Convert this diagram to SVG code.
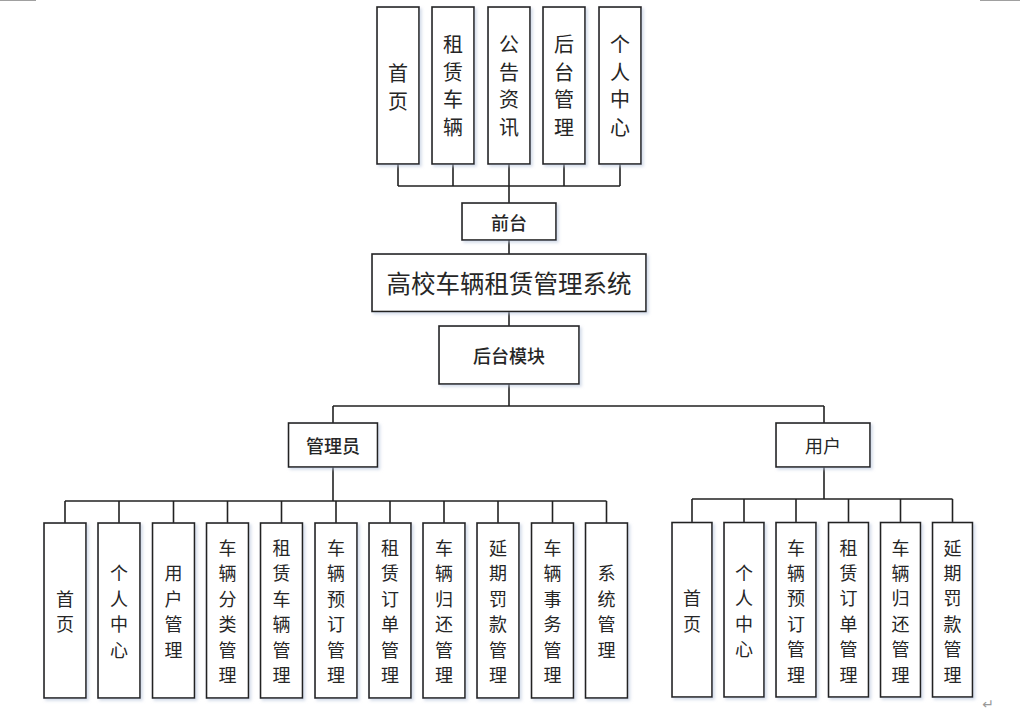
<svg xmlns="http://www.w3.org/2000/svg" width="1034" height="719" viewBox="0 0 1034 719">
<style>
.box{fill:#ffffff;stroke:#222222;stroke-width:1.6;filter:url(#sh)}
.ln{fill:none;stroke:#222222;stroke-width:1.6}
.t{font-family:"Noto Sans CJK SC","Noto Sans",sans-serif;fill:#262626;text-anchor:middle;dominant-baseline:central}
.top{font-size:20px}
.bot{font-size:18px}
.mid{font-size:18px;font-weight:500}
.ttl{font-size:24.5px}
</style>
<defs>
<filter id="sh" x="-20%" y="-20%" width="140%" height="140%">
<feDropShadow dx="2" dy="2" stdDeviation="1.5" flood-color="#b8c4dc" flood-opacity="0.6"/>
</filter>
</defs>
<rect width="1034" height="719" fill="#ffffff"/>
<line x1="0" y1="0.5" x2="36" y2="0.5" stroke="#a0a0a0" stroke-width="1"/>
<line x1="980" y1="0.5" x2="1020" y2="0.5" stroke="#a0a0a0" stroke-width="1"/>
<text x="988" y="704" font-family="DejaVu Sans,sans-serif" font-size="14" fill="#999999" text-anchor="middle" dominant-baseline="central">↵</text>

<g id="connectors">
<path class="ln" d="M398,164V186M453,164V186M509,164V203M564,164V186M620,164V186M398,186H620"/>
<path class="ln" d="M509,240V254M509,311.5V326M509,384V406M333,406H824M333,406V423M824,406V423"/>
<path class="ln" d="M333,467V501" stroke-width="2.4"/>
<path class="ln" d="M65,501H606.5M65,501V523M119,501V523M173.5,501V523M227.5,501V523M281.5,501V523M336,501V523M390,501V523M444,501V523M498,501V523M552.5,501V523M606.5,501V523"/>
<path class="ln" d="M824,467V499" stroke-width="2.4"/>
<path class="ln" d="M692,499H952.5M692,499V522.5M744,499V522.5M796,499V522.5M848.5,499V522.5M900.5,499V522.5M952.5,499V522.5"/>
</g>

<g id="top1"><rect class="box" x="377" y="7" width="42" height="157"/><text class="t top" x="398"><tspan x="398" y="72">首</tspan><tspan x="398" y="100">页</tspan></text></g>
<g id="top2"><rect class="box" x="432" y="7" width="42" height="157"/><text class="t top" x="453"><tspan x="453" y="43">租</tspan><tspan x="453" y="70.5">赁</tspan><tspan x="453" y="98">车</tspan><tspan x="453" y="125.5">辆</tspan></text></g>
<g id="top3"><rect class="box" x="488" y="7" width="42" height="157"/><text class="t top" x="509"><tspan x="509" y="43">公</tspan><tspan x="509" y="70.5">告</tspan><tspan x="509" y="98">资</tspan><tspan x="509" y="125.5">讯</tspan></text></g>
<g id="top4"><rect class="box" x="543" y="7" width="42" height="157"/><text class="t top" x="564"><tspan x="564" y="43">后</tspan><tspan x="564" y="70.5">台</tspan><tspan x="564" y="98">管</tspan><tspan x="564" y="125.5">理</tspan></text></g>
<g id="top5"><rect class="box" x="599" y="7" width="42" height="157"/><text class="t top" x="620"><tspan x="620" y="43">个</tspan><tspan x="620" y="70.5">人</tspan><tspan x="620" y="98">中</tspan><tspan x="620" y="125.5">心</tspan></text></g>

<g id="qiantai"><rect class="box" x="462" y="203" width="94" height="37"/><text class="t mid" x="509" y="221.5">前台</text></g>
<g id="system"><rect class="box" x="372" y="254" width="274" height="57.5"/><text class="t ttl" x="509" y="282.5">高校车辆租赁管理系统</text></g>
<g id="houtai"><rect class="box" x="439" y="326" width="140" height="58"/><text class="t mid" x="509" y="355">后台模块</text></g>
<g id="admin"><rect class="box" x="288.5" y="423" width="89" height="44"/><text class="t mid" x="333" y="445">管理员</text></g>
<g id="user"><rect class="box" x="776" y="423" width="94" height="44"/><text class="t" x="823" y="445" font-size="18">用户</text></g>

<g id="a1"><rect class="box" x="44" y="523" width="42" height="175"/><text class="t bot"><tspan x="65" y="597.5">首</tspan><tspan x="65" y="623">页</tspan></text></g>
<g id="a2"><rect class="box" x="98" y="523" width="42" height="175"/><text class="t bot"><tspan x="119" y="572">个</tspan><tspan x="119" y="597.5">人</tspan><tspan x="119" y="623">中</tspan><tspan x="119" y="648.5">心</tspan></text></g>
<g id="a3"><rect class="box" x="152.5" y="523" width="42" height="175"/><text class="t bot"><tspan x="173.5" y="572">用</tspan><tspan x="173.5" y="597.5">户</tspan><tspan x="173.5" y="623">管</tspan><tspan x="173.5" y="648.5">理</tspan></text></g>
<g id="a4"><rect class="box" x="206.5" y="523" width="42" height="175"/><text class="t bot"><tspan x="227.5" y="547">车</tspan><tspan x="227.5" y="572">辆</tspan><tspan x="227.5" y="597.5">分</tspan><tspan x="227.5" y="623">类</tspan><tspan x="227.5" y="648.5">管</tspan><tspan x="227.5" y="674">理</tspan></text></g>
<g id="a5"><rect class="box" x="260.5" y="523" width="42" height="175"/><text class="t bot"><tspan x="281.5" y="547">租</tspan><tspan x="281.5" y="572">赁</tspan><tspan x="281.5" y="597.5">车</tspan><tspan x="281.5" y="623">辆</tspan><tspan x="281.5" y="648.5">管</tspan><tspan x="281.5" y="674">理</tspan></text></g>
<g id="a6"><rect class="box" x="315" y="523" width="42" height="175"/><text class="t bot"><tspan x="336" y="547">车</tspan><tspan x="336" y="572">辆</tspan><tspan x="336" y="597.5">预</tspan><tspan x="336" y="623">订</tspan><tspan x="336" y="648.5">管</tspan><tspan x="336" y="674">理</tspan></text></g>
<g id="a7"><rect class="box" x="369" y="523" width="42" height="175"/><text class="t bot"><tspan x="390" y="547">租</tspan><tspan x="390" y="572">赁</tspan><tspan x="390" y="597.5">订</tspan><tspan x="390" y="623">单</tspan><tspan x="390" y="648.5">管</tspan><tspan x="390" y="674">理</tspan></text></g>
<g id="a8"><rect class="box" x="423" y="523" width="42" height="175"/><text class="t bot"><tspan x="444" y="547">车</tspan><tspan x="444" y="572">辆</tspan><tspan x="444" y="597.5">归</tspan><tspan x="444" y="623">还</tspan><tspan x="444" y="648.5">管</tspan><tspan x="444" y="674">理</tspan></text></g>
<g id="a9"><rect class="box" x="477" y="523" width="42" height="175"/><text class="t bot"><tspan x="498" y="547">延</tspan><tspan x="498" y="572">期</tspan><tspan x="498" y="597.5">罚</tspan><tspan x="498" y="623">款</tspan><tspan x="498" y="648.5">管</tspan><tspan x="498" y="674">理</tspan></text></g>
<g id="a10"><rect class="box" x="531.5" y="523" width="42" height="175"/><text class="t bot"><tspan x="552.5" y="547">车</tspan><tspan x="552.5" y="572">辆</tspan><tspan x="552.5" y="597.5">事</tspan><tspan x="552.5" y="623">务</tspan><tspan x="552.5" y="648.5">管</tspan><tspan x="552.5" y="674">理</tspan></text></g>
<g id="a11"><rect class="box" x="585.5" y="523" width="42" height="175"/><text class="t bot"><tspan x="606.5" y="572">系</tspan><tspan x="606.5" y="597.5">统</tspan><tspan x="606.5" y="623">管</tspan><tspan x="606.5" y="648.5">理</tspan></text></g>

<g id="u1"><rect class="box" x="672" y="522.5" width="40" height="174.5"/><text class="t bot"><tspan x="692" y="597">首</tspan><tspan x="692" y="622.5">页</tspan></text></g>
<g id="u2"><rect class="box" x="724" y="522.5" width="40" height="174.5"/><text class="t bot"><tspan x="744" y="571.5">个</tspan><tspan x="744" y="597">人</tspan><tspan x="744" y="622.5">中</tspan><tspan x="744" y="648">心</tspan></text></g>
<g id="u3"><rect class="box" x="776" y="522.5" width="40" height="174.5"/><text class="t bot"><tspan x="796" y="546.5">车</tspan><tspan x="796" y="571.5">辆</tspan><tspan x="796" y="597">预</tspan><tspan x="796" y="622.5">订</tspan><tspan x="796" y="648">管</tspan><tspan x="796" y="673.5">理</tspan></text></g>
<g id="u4"><rect class="box" x="828.5" y="522.5" width="40" height="174.5"/><text class="t bot"><tspan x="848.5" y="546.5">租</tspan><tspan x="848.5" y="571.5">赁</tspan><tspan x="848.5" y="597">订</tspan><tspan x="848.5" y="622.5">单</tspan><tspan x="848.5" y="648">管</tspan><tspan x="848.5" y="673.5">理</tspan></text></g>
<g id="u5"><rect class="box" x="880.5" y="522.5" width="40" height="174.5"/><text class="t bot"><tspan x="900.5" y="546.5">车</tspan><tspan x="900.5" y="571.5">辆</tspan><tspan x="900.5" y="597">归</tspan><tspan x="900.5" y="622.5">还</tspan><tspan x="900.5" y="648">管</tspan><tspan x="900.5" y="673.5">理</tspan></text></g>
<g id="u6"><rect class="box" x="932.5" y="522.5" width="40" height="174.5"/><text class="t bot"><tspan x="952.5" y="546.5">延</tspan><tspan x="952.5" y="571.5">期</tspan><tspan x="952.5" y="597">罚</tspan><tspan x="952.5" y="622.5">款</tspan><tspan x="952.5" y="648">管</tspan><tspan x="952.5" y="673.5">理</tspan></text></g>
</svg>
